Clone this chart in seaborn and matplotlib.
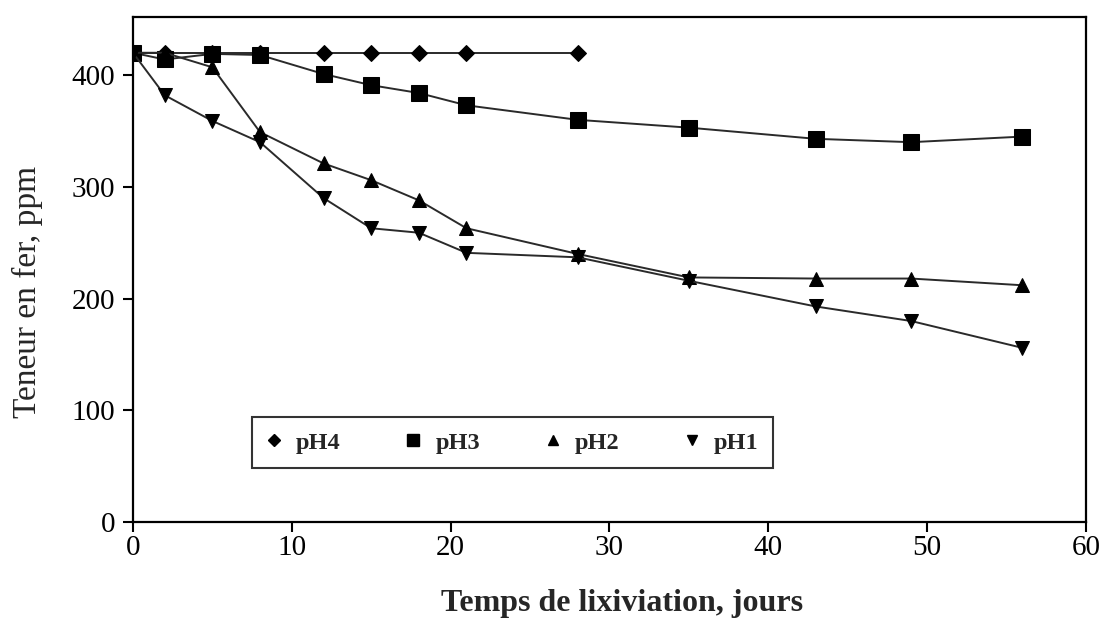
import matplotlib
matplotlib.use("Agg")
import matplotlib.pyplot as plt
from matplotlib.lines import Line2D
import seaborn as sns
import pandas as pd

days_ph4 = [0, 2, 5, 8, 12, 15, 18, 21, 28]
ph4 = [420, 420, 420, 420, 420, 420, 420, 420, 420]

days = [0, 2, 5, 8, 12, 15, 18, 21, 28, 35, 43, 49, 56]
ph3 = [420, 414, 419, 418, 401, 391, 384, 373, 360, 353, 343, 340, 345]
ph2 = [420, 420, 407, 349, 321, 306, 288, 263, 240, 219, 218, 218, 212]
ph1 = [420, 382, 359, 340, 290, 263, 259, 241, 237, 216, 193, 180, 156]

series_names = ["pH4", "pH3", "pH2", "pH1"]
markers = {"pH4": "D", "pH3": "s", "pH2": "^", "pH1": "v"}
msizes = {"pH4": 8, "pH3": 11, "pH2": 10, "pH1": 10}

x_label = "Temps de lixiviation, jours"
y_label = "Teneur en fer, ppm"

sns.set_theme(style="ticks")
plt.rcParams["font.family"] = ["Liberation Serif", "DejaVu Serif"]

fig = plt.figure(figsize=(11.08, 6.18), dpi=100)
ax = fig.add_axes([0.12, 0.155, 0.86, 0.8175])

data = {
    "pH4": (days_ph4, ph4),
    "pH3": (days, ph3),
    "pH2": (days, ph2),
    "pH1": (days, ph1),
}

for name in series_names:
    xs, ys = data[name]
    df = pd.DataFrame({"x": xs, "y": ys})
    sns.lineplot(data=df, x="x", y="y", ax=ax, color="#2a2a2a", linewidth=1.4,
                 marker=markers[name], markersize=msizes[name],
                 markerfacecolor="black", markeredgecolor="black",
                 legend=False, sort=False)

ax.set_xlim(0, 60)
ax.set_ylim(0, 452)
ax.set_xticks([0, 10, 20, 30, 40, 50, 60])
ax.set_yticks([0, 100, 200, 300, 400])
ax.tick_params(axis="both", direction="out", length=7, width=1.5, colors="black",
               labelsize=21, top=False, right=False)
ax.tick_params(axis="x", pad=2)
ax.tick_params(axis="y", pad=6)
for s in ax.spines.values():
    s.set_color("black")
    s.set_linewidth(1.6)

ax.set_xlabel(x_label, fontsize=23, fontweight="bold")
ax.xaxis.set_label_coords(0.513, -0.133)
ax.set_ylabel(y_label, fontsize=24)
ax.yaxis.set_label_coords(-0.094, 0.455)

handles = [Line2D([], [], linestyle="none", marker=markers[n], color="black",
                  markersize=msizes[n] * 0.75) for n in series_names]
leg = ax.legend(handles, series_names, ncol=4, loc="lower left",
                bbox_to_anchor=(0.125, 0.107), frameon=True, fancybox=False,
                edgecolor="black", handlelength=0.6, handletextpad=0.6,
                columnspacing=2.7, borderpad=0.6, borderaxespad=0.0,
                prop={"family": "Liberation Serif", "size": 17.5, "weight": "bold"})
leg.get_frame().set_linewidth(1.5)

fig.savefig("out.png", dpi=100, facecolor="white")
